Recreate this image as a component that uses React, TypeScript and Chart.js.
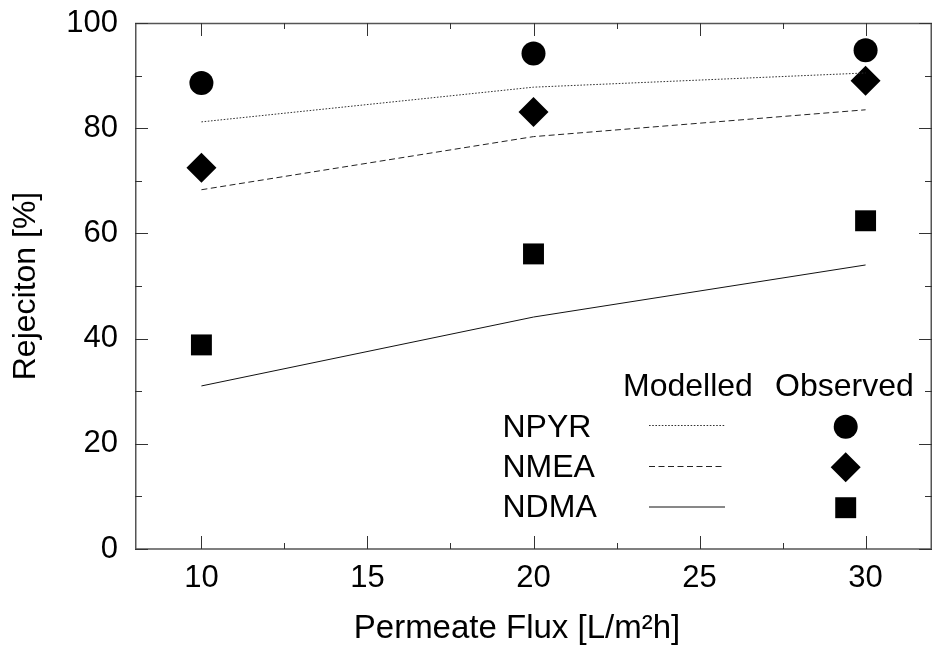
import React, { useEffect, useRef } from "react";
import { Chart, registerables } from "chart.js";

Chart.register(...registerables);

// ---- data ----
const fluxValues = [10, 20, 30];
const seriesNames = ["NPYR", "NMEA", "NDMA"];
const npyrModelled = [81.2, 87.8, 90.5];
const nmeaModelled = [68.3, 78.4, 83.5];
const ndmaModelled = [31.0, 44.1, 54.0];
const npyrObserved = [88.6, 94.2, 94.8];
const nmeaObserved = [72.5, 83.1, 89.0];
const ndmaObserved = [38.8, 56.1, 62.4];
const xTickValues = [10, 15, 20, 25, 30];
const yTickValues = [0, 20, 40, 60, 80, 100];
const xRange = [8, 32];
const yRange = [0, 100];

const FONT = "'Liberation Sans', Arial, Helvetica, sans-serif";

const toXY = (ys: number[]) => fluxValues.map((x, i) => ({ x, y: ys[i] }));

const modelledStyles = [
  { dash: [1.6, 1.6], color: "#333" },
  { dash: [6, 3.5], color: "#222" },
  { dash: [], color: "#111" },
];
const observedStyles = [
  { style: "circle", radius: 12 },
  { style: "rectRot", radius: 15 },
  { style: "rect", radius: 14.8 },
];

const midpoints = (arr: number[]) =>
  arr.slice(0, -1).map((v, i) => (v + arr[i + 1]) / 2);

const framePlugin = {
  id: "frame",
  beforeDatasetsDraw(chart: any) {
    const { ctx, chartArea: a, scales } = chart;
    const xs = scales.x;
    const ys = scales.y;
    ctx.save();
    ctx.strokeStyle = "#555";
    ctx.lineWidth = 1.5;
    ctx.beginPath();
    ctx.rect(a.left + 0.75, a.top + 0.5, a.right - a.left - 1.5, a.bottom - a.top - 0.5);
    ctx.stroke();
    ctx.strokeStyle = "#333";
    ctx.lineWidth = 1;
    const major = 13;
    const minor = 7;
    const drawX = (v: number, len: number) => {
      const px = Math.round(xs.getPixelForValue(v)) + 0.5;
      ctx.beginPath();
      ctx.moveTo(px, a.bottom);
      ctx.lineTo(px, a.bottom - len);
      ctx.moveTo(px, a.top);
      ctx.lineTo(px, a.top + len);
      ctx.stroke();
    };
    xTickValues.forEach((v) => drawX(v, major));
    midpoints(xTickValues).forEach((v) => drawX(v, minor - 1));
    const drawY = (v: number, len: number) => {
      const py = Math.round(ys.getPixelForValue(v)) + 0.5;
      ctx.beginPath();
      ctx.moveTo(a.left, py);
      ctx.lineTo(a.left + len, py);
      ctx.moveTo(a.right, py);
      ctx.lineTo(a.right - len, py);
      ctx.stroke();
    };
    yTickValues.forEach((v) => drawY(v, major));
    midpoints(yTickValues).forEach((v) => drawY(v, minor));
    ctx.restore();
  },
  afterDraw(chart: any) {
    const { ctx } = chart;
    ctx.save();
    ctx.fillStyle = "#000";
    ctx.font = `32px ${FONT}`;
    ctx.textBaseline = "alphabetic";
    ctx.textAlign = "left";
    ctx.fillText("Modelled", 623, 396);
    ctx.fillText("Observed", 775, 396);
    const rowBase = [436.7, 476.7, 516.7];
    const lineY = [425.5, 466.5, 507];
    const markY = [426.7, 467.3, 507.7];
    seriesNames.forEach((name, i) => {
      ctx.fillStyle = "#000";
      ctx.fillText(name, 502.5, rowBase[i]);
      const st = modelledStyles[i];
      ctx.strokeStyle = st.color;
      ctx.lineWidth = 1;
      ctx.setLineDash(st.dash);
      ctx.beginPath();
      ctx.moveTo(649, lineY[i]);
      ctx.lineTo(725, lineY[i]);
      ctx.stroke();
      ctx.setLineDash([]);
      const mx = 845.7;
      const my = markY[i];
      const ob = observedStyles[i];
      ctx.beginPath();
      if (ob.style === "circle") {
        ctx.arc(mx, my, ob.radius, 0, Math.PI * 2);
      } else if (ob.style === "rectRot") {
        ctx.moveTo(mx - ob.radius, my);
        ctx.lineTo(mx, my - ob.radius);
        ctx.lineTo(mx + ob.radius, my);
        ctx.lineTo(mx, my + ob.radius);
        ctx.closePath();
      } else {
        const h = ob.radius * Math.SQRT1_2;
        ctx.rect(mx - h, my - h, 2 * h, 2 * h);
      }
      ctx.fillStyle = "#000";
      ctx.fill();
    });
    ctx.restore();
  },
};

export default function App() {
  const ref = useRef<HTMLCanvasElement>(null);
  useEffect(() => {
    if (!ref.current) return;
    const modelled = [npyrModelled, nmeaModelled, ndmaModelled];
    const observed = [npyrObserved, nmeaObserved, ndmaObserved];
    const datasets: any[] = [];
    seriesNames.forEach((name, i) => {
      datasets.push({
        label: `${name} modelled`,
        data: toXY(modelled[i]),
        showLine: true,
        borderColor: modelledStyles[i].color,
        borderWidth: 1,
        borderDash: modelledStyles[i].dash,
        pointRadius: 0,
        fill: false,
        tension: 0,
      });
    });
    seriesNames.forEach((name, i) => {
      datasets.push({
        label: `${name} observed`,
        data: toXY(observed[i]),
        showLine: false,
        pointStyle: observedStyles[i].style,
        pointRadius: observedStyles[i].radius,
        pointHoverRadius: observedStyles[i].radius,
        pointBackgroundColor: "#000",
        pointBorderColor: "#000",
        pointBorderWidth: 0,
      });
    });
    const chart = new Chart(ref.current, {
      type: "scatter",
      data: { datasets },
      options: {
        animation: false,
        responsive: false,
        events: [],
        layout: { autoPadding: false, padding: { top: 23, right: 0, left: 0, bottom: 0 } },
        plugins: { legend: { display: false }, tooltip: { enabled: false } },
        scales: {
          x: {
            type: "linear",
            min: xRange[0],
            max: xRange[1],
            border: { display: false },
            grid: { display: false, drawTicks: false },
            afterBuildTicks: (s: any) => {
              s.ticks = xTickValues.map((v) => ({ value: v }));
            },
            afterFit: (s: any) => {
              s.height = 104;
              s.paddingLeft = 0;
              s.paddingRight = 0;
              s.paddingTop = 0;
              s.paddingBottom = 0;
            },
            ticks: {
              padding: 11,
              color: "#000",
              font: { family: FONT, size: 31 },
              maxRotation: 0,
              autoSkip: false,
            },
            title: {
              display: true,
              text: "Permeate Flux [L/m\u00B2h]\u2002\u2002",
              color: "#000",
              font: { family: FONT, size: 33 },
              padding: { top: 0, bottom: 4 },
            },
          },
          y: {
            type: "linear",
            min: yRange[0],
            max: yRange[1],
            border: { display: false },
            grid: { display: false, drawTicks: false },
            afterBuildTicks: (s: any) => {
              s.ticks = yTickValues.map((v) => ({ value: v }));
            },
            afterFit: (s: any) => {
              s.width = 135;
              s.paddingLeft = 0;
              s.paddingRight = 0;
              s.paddingTop = 0;
              s.paddingBottom = 0;
            },
            ticks: {
              padding: 17,
              color: "#000",
              font: { family: FONT, size: 31 },
              autoSkip: false,
            },
            title: {
              display: true,
              text: "Rejeciton [%]",
              color: "#000",
              font: { family: FONT, size: 32 },
              padding: { top: 7, bottom: 0 },
            },
          },
        },
      },
      plugins: [framePlugin],
    });
    return () => chart.destroy();
  }, []);
  return (
    <div style={{ position: "absolute", left: 0, top: 0, width: 932, height: 653, background: "#fff" }}>
      <canvas ref={ref} width={932} height={653} style={{ display: "block" }} />
    </div>
  );
}
